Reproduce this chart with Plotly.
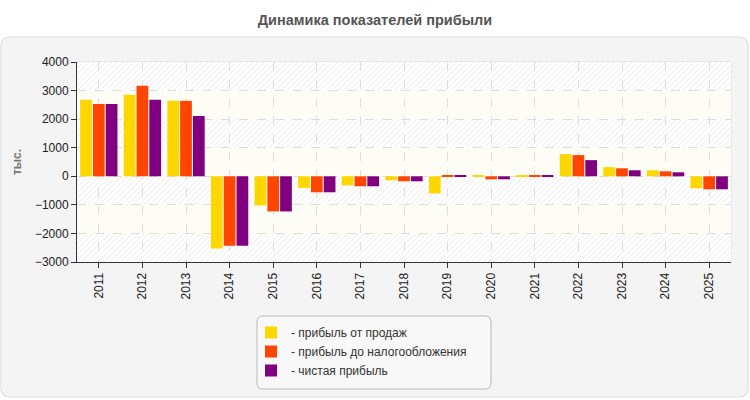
import base64
import plotly.graph_objects as go

years = ["2011", "2012", "2013", "2014", "2015", "2016", "2017", "2018",
         "2019", "2020", "2021", "2022", "2023", "2024", "2025"]
sales_profit = [2680, 2850, 2640, -2530, -1020, -410, -320, -140,
                -600, 15, 35, 775, 320, 210, -420]
pretax_profit = [2530, 3170, 2640, -2430, -1230, -560, -350, -175,
                 35, -105, 35, 740, 280, 175, -455]
net_profit = [2530, 2680, 2110, -2430, -1230, -560, -350, -175,
              35, -105, 15, 565, 210, 140, -455]
series_names = ["- прибыль от продаж", "- прибыль до налогообложения", "- чистая прибыль"]
series_colors = ["#FFD700", "#FF4500", "#800080"]
y_ticks = [-3000, -2000, -1000, 0, 1000, 2000, 3000, 4000]

W, H = 750, 400
L, R, T, B = 77, 19, 62, 138
PW, PH = W - L - R, H - T - B


def px(x):
    return (x - L) / PW


def py(y):
    return (H - B - y) / PH


def rounded(x0, y0, x1, y1, r):
    s = f"M {px(x0 + r):.5f},{py(y0):.5f} "
    s += f"L {px(x1 - r):.5f},{py(y0):.5f} "
    s += f"Q {px(x1):.5f},{py(y0):.5f} {px(x1):.5f},{py(y0 + r):.5f} "
    s += f"L {px(x1):.5f},{py(y1 - r):.5f} "
    s += f"Q {px(x1):.5f},{py(y1):.5f} {px(x1 - r):.5f},{py(y1):.5f} "
    s += f"L {px(x0 + r):.5f},{py(y1):.5f} "
    s += f"Q {px(x0):.5f},{py(y1):.5f} {px(x0):.5f},{py(y1 - r):.5f} "
    s += f"L {px(x0):.5f},{py(y0 + r):.5f} "
    s += f"Q {px(x0):.5f},{py(y0):.5f} {px(x0 + r):.5f},{py(y0):.5f} Z"
    return s


# background bands (hatched / cream) as an svg image
nb = len(y_ticks) - 1
bh = PH / nb
rects = ""
for i in range(nb):
    fill = "url(#h)" if i % 2 == 0 else "#fdfdf5"
    rects += f'<rect x="0" y="{i*bh:.2f}" width="{PW}" height="{bh+0.5:.2f}" fill="{fill}"/>'
svg = (f'<svg xmlns="http://www.w3.org/2000/svg" width="{PW}" height="{PH}" '
       f'viewBox="0 0 {PW} {PH}" preserveAspectRatio="none">'
       '<defs><pattern id="h" width="4" height="4" patternUnits="userSpaceOnUse" '
       'patternTransform="rotate(45)"><rect width="4" height="4" fill="#ffffff"/>'
       '<line x1="0" y1="0" x2="0" y2="4" stroke="#ececec" stroke-width="1.6"/></pattern></defs>'
       f'{rects}</svg>')
img_src = "data:image/svg+xml;base64," + base64.b64encode(svg.encode()).decode()

fig = go.Figure()
for name, vals, col in zip(series_names, [sales_profit, pretax_profit, net_profit], series_colors):
    fig.add_trace(go.Bar(x=years, y=vals, name=name, marker_color=col,
                         marker_line_width=0))

fig.update_layout(
    width=W, height=H,
    margin=dict(l=L, r=R, t=T, b=B),
    paper_bgcolor="#ffffff",
    plot_bgcolor="rgba(0,0,0,0)",
    font=dict(family="Liberation Sans, Arial, sans-serif", size=12, color="#222222"),
    title=dict(text="<b>Динамика показателей прибыли</b>", x=0.5, xanchor="center",
               y=1 - 20 / H, yanchor="middle",
               font=dict(size=14.5, color="#555555")),
    barmode="group", bargap=0.12, bargroupgap=0.08,
    showlegend=True,
    legend=dict(x=px(251), y=py(318), xanchor="left", yanchor="top",
                bgcolor="rgba(0,0,0,0)", borderwidth=0,
                font=dict(size=12, color="#333333"), tracegroupgap=0,
                itemsizing="constant"),
    xaxis=dict(type="category", showgrid=True, gridcolor="#dddddd", griddash="dash",
               gridwidth=1, showline=True, linecolor="#333333", linewidth=1,
               ticks="outside", ticklen=5, tickcolor="#333333", tickangle=-90,
               tickfont=dict(size=12, color="#222222")),
    yaxis=dict(range=[y_ticks[0], y_ticks[-1]], tickvals=y_ticks, showgrid=True,
               gridcolor="#dddddd", griddash="dash", gridwidth=1, zeroline=False,
               showline=True, linecolor="#333333", linewidth=1, ticks="outside",
               ticklen=5, tickcolor="#333333", tickfont=dict(size=12, color="#222222"),
               title=dict(text="<b>тыс.</b>", font=dict(size=12, color="#777777"),
                          standoff=10)),
    images=[dict(source=img_src, xref="x domain", yref="y domain", x=0, y=1,
                 sizex=1, sizey=1, sizing="stretch", xanchor="left", yanchor="top",
                 layer="below")],
    shapes=[
        dict(type="path", xref="paper", yref="paper", path=rounded(1, 37, 748, 397, 9),
             fillcolor="#f4f4f4", line=dict(color="#dedede", width=1.2), layer="below"),
        dict(type="rect", xref="x domain", yref="y domain", x0=0, x1=1, y0=0, y1=1,
             fillcolor="rgba(0,0,0,0)", line=dict(color="#dddddd", width=1), layer="below"),
        dict(type="path", xref="paper", yref="paper", path=rounded(257, 316, 491, 389, 6),
             fillcolor="#f8f8f8", line=dict(color="#b8b8b8", width=1), layer="below"),
    ],
)

fig.write_html("out.html")
